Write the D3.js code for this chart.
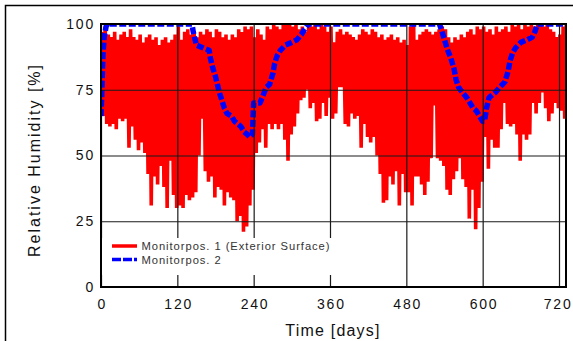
<!DOCTYPE html>
<html>
<head>
<meta charset="utf-8">
<script src="https://cdn.jsdelivr.net/npm/d3@7"></script>
<style>
  html, body { margin: 0; padding: 0; background: #fff; }
  svg { display: block; font-family: "Liberation Sans", Arial, sans-serif; }
</style>
</head>
<body>
<svg id="chart" width="573" height="341"></svg>
<script>
// ---- data ----
const xTicks = [0, 120, 240, 360, 480, 600, 720];
const yTicks = [0, 25, 50, 75, 100];
const seriesNames = ["Monitorpos. 1  (Exterior Surface)", "Monitorpos. 2"];

// Monitorpos. 1 : daily max / min envelope, sampled every 5 days (day 0 .. 730)
const redStep = 5;
const redHigh = [
  97,99,96,95,97,94,96,97,95,98, 95,94,96,93,95,96,94,95,92,94,
  95,93,94,96,99,94,97,98,96,97, 95,97,96,98,97,95,98,97,95,96,
  94,96,95,98,97,99,98,99,95,98, 96,94,99,98,100,99,98,100,100,100,
  99,100,98,99,97,100,99,100,98,100, 99,97,99,
  93,97,98,96,97,96,95,94,96,98, 97,96,98,97,95,96,94,95,96,94,
  95,93,94,92,99,100,94,96,97,98, 97,96,97,98,99,98,95,93,95,94,
  96,95,97,98,96,99,98,99,97,98, 96,99,97,98,99,97,100,99,100,98,
  100,99,100,99,100,100,99,100,98,97, 95,96,99,100
];
const redLow = [
  65,62,61,62,60,64,63,64,53,61, 56,52,55,51,43,31,42,39,46,38,
  30,48,35,30,31,30,35,33,34,36, 50,64,44,40,42,34,38,37,31,36,
  34,33,25,27,21,23,31,37,51,55, 60,53,62,60,62,60,62,56,48,58,
  61,66,71,72,75,68,70,63,64,70, 65,72,64,
  66,76,76,62,61,66,64,65,53,62, 57,55,57,50,43,32,33,42,39,44,
  31,43,36,36,31,42,42,39,35,40, 49,69,49,48,46,37,35,41,44,49,
  41,38,26,37,22,30,40,57,45,56, 53,53,60,70,62,61,62,58,48,58,
  56,58,70,66,70,74,68,63,66,70, 68,67,64,64
];

// Monitorpos. 2
const blueDays = [0,1,2,3,5,8,10,143,145,150,160,170,172,176,180,183,186,190,194,198,205,210,215,220,225,230,234,238,240,245,250,255,260,265,270,273,277,282,290,300,308,315,320,326,
  532,535,540,545,550,555,558,562,568,575,580,585,590,595,600,603,606,610,620,627,635,640,643,647,652,660,670,678,682,686,730];
const blueVals = [65,72,80,88,95,99,100,100,97,92,91,90,87,83,80,77,74,71,68,66,65,63,62,61,59,58,57,58,70,70,70,73,76,77,81,85,88,90,92,93,94,96,98,100,
  100,98,94,90,87,83,79,76,74,72,70,68,67,65,63,63,68,72,74,76,78,82,86,89,91,93,94,95,97,100,100];

// ---- layout ----
const svg = d3.select("#chart");
const L = 101, R = 566, T = 24, B = 287;
const x = d3.scaleLinear().domain([0, 731]).range([L, R]);
const y = d3.scaleLinear().domain([0, 100]).range([B, T]);

// outer frame
svg.append("rect").attr("x", 5.5).attr("y", 5.5).attr("width", 700).attr("height", 500)
  .attr("fill", "none").attr("stroke", "#000").attr("stroke-width", 1.5);

svg.append("clipPath").attr("id", "clip").append("rect")
  .attr("x", L).attr("y", T).attr("width", R - L).attr("height", B - T);

const plot = svg.append("g").attr("clip-path", "url(#clip)");

// red zig-zag line
const redPts = [];
redHigh.forEach((h, i) => {
  const d = i * redStep;
  redPts.push([d + 1.5, h]);
  redPts.push([d + 4, redLow[i]]);
});
const line = d3.line().x(d => x(d[0])).y(d => y(d[1]));
plot.append("path").datum(redPts).attr("d", line)
  .attr("fill", "none").attr("stroke", "#ff0000").attr("stroke-width", 3.6)
  .attr("stroke-linejoin", "miter").attr("stroke-miterlimit", 2);

// blue dashed line
const bluePts = blueDays.map((d, i) => [d, blueVals[i]]);
plot.append("path").datum(bluePts).attr("d", line)
  .attr("fill", "none").attr("stroke", "#0000ff").attr("stroke-width", 5.5)
  .attr("stroke-dasharray", "7,2.5").attr("stroke-linejoin", "round");

// grid (drawn over data)
const gx = d3.axisBottom(x).tickValues(xTicks).tickSize(-(B - T)).tickFormat("");
const gy = d3.axisLeft(y).tickValues(yTicks).tickSize(-(R - L)).tickFormat("");
const gX = svg.append("g").attr("transform", `translate(0,${B})`).call(gx);
const gY = svg.append("g").attr("transform", `translate(${L},0)`).call(gy);
[gX, gY].forEach(g => {
  g.select(".domain").remove();
  g.selectAll(".tick line").attr("stroke", "#1a1a1a").attr("stroke-width", 1.2);
});

// legend box hides grid and data beneath
svg.append("rect").attr("x", L + 1).attr("y", 238).attr("width", 236).attr("height", 37).attr("fill", "#fff");

// legend entries
const legY = [246, 259.5];
legY.forEach((ly, i) => {
  const ln = svg.append("line").attr("x1", 112).attr("x2", 137).attr("y1", ly).attr("y2", ly);
  if (i === 0) ln.attr("stroke", "#ff0000").attr("stroke-width", 3.5);
  else ln.attr("stroke", "#0000ff").attr("stroke-width", 3.5).attr("stroke-dasharray", "9,2");
  svg.append("text").attr("x", 141.5).attr("y", ly + 4).attr("font-size", 11.2)
    .attr("letter-spacing", 0.95).attr("fill", "#333").text(seriesNames[i]);
});

// plot frame
svg.append("rect").attr("x", L).attr("y", T).attr("width", R - L).attr("height", B - T)
  .attr("fill", "none").attr("stroke", "#000").attr("stroke-width", 2);

// tick labels
const ax = d3.axisBottom(x).tickValues(xTicks).tickSize(0).tickPadding(12);
const aX = svg.append("g").attr("transform", `translate(0,${B})`).call(ax);
aX.select(".domain").remove();
aX.selectAll("text").attr("font-size", 14).attr("letter-spacing", 1.8).attr("fill", "#111")
  .attr("font-family", "Liberation Sans, Arial, sans-serif").attr("dx", "0.9");
aX.selectAll(".tick").filter(d => d === 720).select("text")
  .attr("text-anchor", "end").attr("x", 572 - x(720)).attr("dx", 0);

const ay = d3.axisLeft(y).tickValues(yTicks).tickSize(0).tickPadding(6);
const aY = svg.append("g").attr("transform", `translate(${L},0)`).call(ay);
aY.select(".domain").remove();
aY.selectAll("text").attr("font-size", 14).attr("letter-spacing", 1.8).attr("fill", "#111")
  .attr("font-family", "Liberation Sans, Arial, sans-serif");

// axis titles
svg.append("text").attr("x", 333).attr("y", 336).attr("text-anchor", "middle")
  .attr("font-size", 16).attr("letter-spacing", 1.2).attr("fill", "#111").text("Time [days]");
svg.append("text").attr("transform", "translate(40,160) rotate(-90)").attr("text-anchor", "middle")
  .attr("font-size", 16).attr("letter-spacing", 2).attr("fill", "#111").text("Relative Humidity [%]");
</script>
</body>
</html>
